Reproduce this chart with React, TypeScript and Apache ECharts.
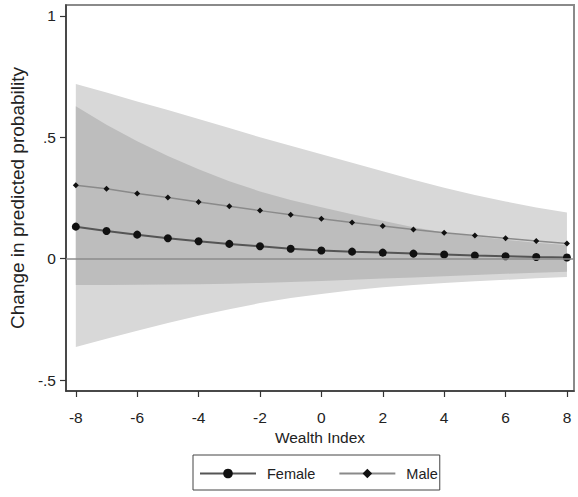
import React, { useEffect, useRef } from "react";
import * as echarts from "echarts";

const xValues = [-8, -7, -6, -5, -4, -3, -2, -1, 0, 1, 2, 3, 4, 5, 6, 7, 8];
const femaleValues = [0.132, 0.114, 0.099, 0.084, 0.072, 0.061, 0.051, 0.041, 0.034, 0.029, 0.025, 0.021, 0.017, 0.013, 0.01, 0.007, 0.005];
const maleValues = [0.303, 0.288, 0.269, 0.252, 0.234, 0.216, 0.198, 0.181, 0.165, 0.149, 0.135, 0.12, 0.107, 0.096, 0.084, 0.073, 0.063];
const femaleUpper = [0.628, 0.552, 0.484, 0.423, 0.368, 0.319, 0.277, 0.242, 0.212, 0.183, 0.156, 0.13, 0.108, 0.092, 0.078, 0.066, 0.056];
const femaleLower = [-0.108, -0.108, -0.107, -0.106, -0.105, -0.103, -0.1, -0.096, -0.092, -0.087, -0.082, -0.077, -0.072, -0.067, -0.062, -0.058, -0.054];
const maleUpper = [0.72, 0.685, 0.648, 0.612, 0.575, 0.538, 0.5, 0.465, 0.43, 0.395, 0.36, 0.325, 0.292, 0.262, 0.236, 0.211, 0.19];
const maleLower = [-0.364, -0.33, -0.297, -0.265, -0.235, -0.208, -0.183, -0.162, -0.145, -0.13, -0.118, -0.108, -0.1, -0.093, -0.087, -0.081, -0.075];
const xTicks = [-8, -6, -4, -2, 0, 2, 4, 6, 8];
const yTicks = [-0.5, 0, 0.5, 1];
const yTickLabels = ["-.5", "0", ".5", "1"];
const seriesNames = ["Female", "Male"];

const FONT = "Liberation Sans, Arial, sans-serif";

function band(name: string, upper: number[], lower: number[], color: string, z: number) {
  return {
    type: "custom",
    name,
    silent: true,
    z,
    data: [[0, 0]],
    renderItem: (_params: any, api: any) => {
      const pts: number[][] = [];
      xValues.forEach((x, i) => pts.push(api.coord([x, upper[i]])));
      for (let i = xValues.length - 1; i >= 0; i--) pts.push(api.coord([xValues[i], lower[i]]));
      return { type: "polygon", shape: { points: pts, smooth: 0 }, style: { fill: color } };
    },
  };
}

export default function App() {
  const ref = useRef<HTMLDivElement>(null);
  useEffect(() => {
    if (!ref.current) return;
    const chart = echarts.init(ref.current, undefined, { renderer: "svg" });
    chart.setOption({
      animation: false,
      backgroundColor: "#ffffff",
      textStyle: { fontFamily: FONT },
      grid: {
        left: 61,
        right: 4,
        top: 5,
        bottom: 106,
        show: true,
        borderColor: "#8a8a8a",
        borderWidth: 2,
        backgroundColor: "transparent",
      },
      legend: {
        data: seriesNames,
        left: 193,
        top: 455,
        orient: "horizontal",
        padding: [11, 2, 9, 6],
        itemGap: 23,
        itemWidth: 56,
        itemHeight: 12,
        borderColor: "#444",
        borderWidth: 1,
        textStyle: { fontSize: 14.5, color: "#222", fontFamily: FONT, padding: [0, 0, 0, 6] },
      },
      xAxis: {
        type: "value",
        min: -8.32,
        max: 8.23,
        name: "Wealth Index",
        nameLocation: "middle",
        nameGap: 35,
        nameTextStyle: { fontSize: 15.5, color: "#222", fontFamily: FONT },
        axisLine: { show: true, onZero: false, lineStyle: { color: "#333", width: 1.5 } },
        axisTick: { show: true, length: 6, customValues: xTicks, lineStyle: { color: "#333", width: 1.2 } },
        axisLabel: { customValues: xTicks, fontSize: 15.5, color: "#222", margin: 18, fontFamily: FONT },
        splitLine: { show: false },
      },
      yAxis: {
        type: "value",
        min: -0.545,
        max: 1.045,
        name: "Change in predicted probability",
        nameLocation: "middle",
        nameRotate: 90,
        nameGap: 32,
        nameTextStyle: { fontSize: 19, color: "#222", fontFamily: FONT },
        axisLine: { show: true, onZero: false, lineStyle: { color: "#333", width: 1.5 } },
        axisTick: { show: true, length: 6, customValues: yTicks, lineStyle: { color: "#333", width: 1.2 } },
        axisLabel: {
          customValues: yTicks,
          fontSize: 15.5,
          color: "#222",
          margin: 10,
          fontFamily: FONT,
          formatter: (v: number) => {
            const i = yTicks.findIndex((t) => Math.abs(t - v) < 1e-9);
            return i >= 0 ? yTickLabels[i] : "";
          },
        },
        splitLine: { show: false },
      },
      series: [
        band("Male CI", maleUpper, maleLower, "#d8d8d8", 1),
        band("Female CI", femaleUpper, femaleLower, "#bdbdbd", 2),
        {
          type: "line",
          name: seriesNames[1],
          z: 3,
          data: xValues.map((x, i) => [x, maleValues[i]]),
          symbol: "diamond",
          symbolSize: 6,
          itemStyle: { color: "#111" },
          lineStyle: { color: "#8a8a8a", width: 1.5 },
          markLine: {
            silent: true,
            symbol: "none",
            label: { show: false },
            lineStyle: { color: "#8c8c8c", width: 1.5, type: "solid" },
            data: [{ yAxis: 0 }],
          },
        },
        {
          type: "line",
          name: seriesNames[0],
          z: 4,
          data: xValues.map((x, i) => [x, femaleValues[i]]),
          symbol: "circle",
          symbolSize: 8,
          itemStyle: { color: "#111" },
          lineStyle: { color: "#555", width: 2 },
        },
      ],
    });
    return () => chart.dispose();
  }, []);
  return (
    <div
      ref={ref}
      style={{ position: "fixed", left: 0, top: 0, width: 578, height: 497, background: "#fff" }}
    />
  );
}
